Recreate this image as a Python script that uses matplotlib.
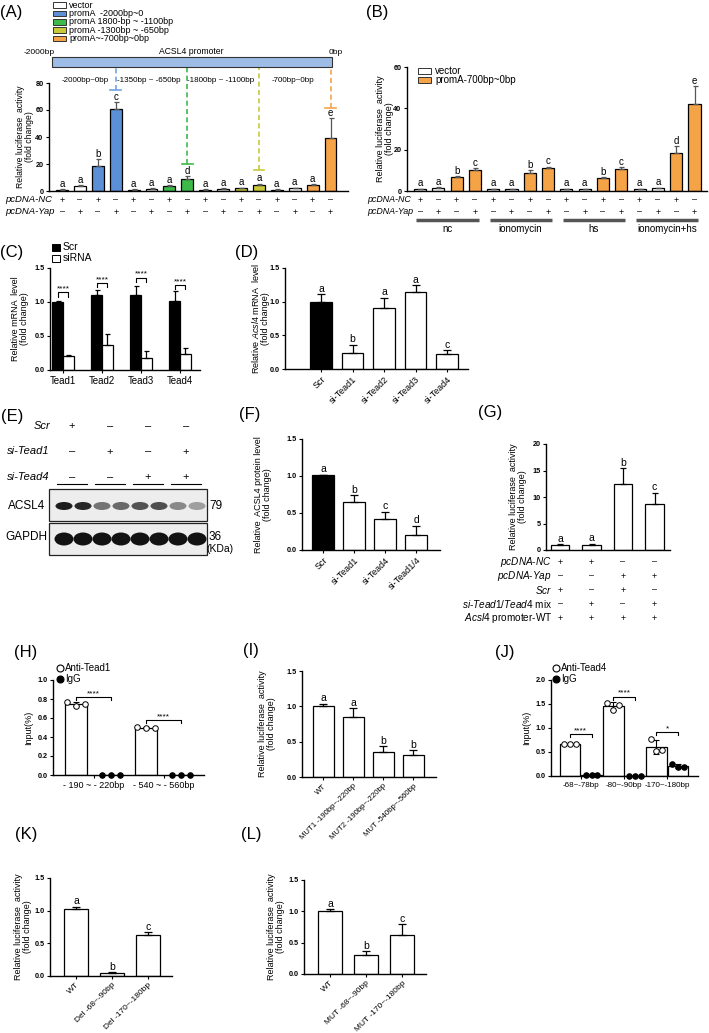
import matplotlib
matplotlib.use("Agg")
import matplotlib.pyplot as plt
import numpy as np
from matplotlib.patches import Rectangle, Ellipse
from matplotlib.lines import Line2D
from matplotlib.transforms import Affine2D, blended_transform_factory

plt.rcParams["font.family"] = ["Liberation Sans", "DejaVu Sans"]
plt.rcParams["mathtext.fontset"] = "custom"
plt.rcParams["mathtext.rm"] = "Liberation Sans"
plt.rcParams["mathtext.it"] = "Liberation Sans:italic"

W, H = 709, 1033
P, M = "+", "\u2013"

# ---------------- data ----------------
# (A) promoter fragments, 16 bars
a_legend = ["vector", "promA  -2000bp~0", "promA 1800-bp ~ -1100bp",
            "promA -1300bp ~ -650bp", "promA~-700bp~0bp"]
a_kind = [0, 0, 1, 1, 0, 0, 2, 2, 0, 0, 3, 3, 0, 0, 4, 4]
a_values = [1.0, 4.0, 18.5, 60.7, 1.0, 1.5, 4.0, 8.9, 1.0, 1.5, 2.0, 4.4, 1.0, 2.0, 4.2, 39.5]
a_errors = [0.3, 0.5, 5.0, 5.2, 0.2, 0.4, 0.6, 2.0, 0.2, 0.4, 0.5, 1.0, 0.2, 0.4, 1.0, 14.5]
a_letters = ["a", "a", "b", "c", "a", "a", "a", "d", "a", "a", "a", "a", "a", "a", "a", "e"]
a_nc = [P, M] * 8
a_yap = [M, P] * 8
a_fragments = ["-2000bp~0bp", "-1350bp ~ -650bp", "-1800bp ~ -1100bp", "-700bp~0bp"]
a_link_bar = [3, 7, 11, 15]
a_link_end = [74.8, 20.0, 15.5, 61.5]

# (B)
b_treat = ["nc", "ionomycin", "hs", "ionomycin+hs"]
b_legend = ["vector", "promA-700bp~0bp"]
b_kind = [0, 0, 1, 1] * 4
b_values = [1.0, 1.5, 6.9, 10.2, 1.0, 1.0, 8.6, 11.0, 1.0, 1.0, 6.3, 10.5, 1.0, 1.3, 18.2, 42.0]
b_errors = [0.2, 0.2, 0.4, 0.8, 0.2, 0.2, 1.6, 0.8, 0.2, 0.2, 0.4, 1.0, 0.2, 0.3, 3.6, 8.8]
b_letters = ["a", "a", "b", "c"] * 3 + ["a", "a", "d", "e"]
b_nc = [P, M] * 8
b_yap = [M, P] * 8

# (C)
c_genes = ["Tead1", "Tead2", "Tead3", "Tead4"]
c_scr = [1.0, 1.1, 1.1, 1.01]
c_scr_err = [0.02, 0.07, 0.14, 0.15]
c_sirna = [0.2, 0.37, 0.18, 0.24]
c_sirna_err = [0.02, 0.16, 0.10, 0.09]
c_sig_y = [1.14, 1.28, 1.36, 1.25]

# (D)
d_labels = ["Scr", "si-Tead1", "si-Tead2", "si-Tead3", "si-Tead4"]
d_values = [1.0, 0.24, 0.9, 1.15, 0.22]
d_errors = [0.11, 0.12, 0.16, 0.10, 0.06]
d_letters = ["a", "b", "a", "a", "c"]

# (E) western blot
e_rows = ["Scr", "si-Tead1", "si-Tead4"]
e_signs = [[P, M, M, M], [M, P, M, P], [M, M, P, P]]
e_acsl4 = [0.95, 0.9, 0.55, 0.6, 0.7, 0.72, 0.45, 0.35]
e_gapdh = [1.0, 1.0, 1.0, 1.0, 1.0, 1.0, 1.0, 1.0]
e_kda = ["79", "36"]

# (F)
f_labels = ["Scr", "si-Tead1", "si-Tead4", "si-Tead1/4"]
f_values = [1.01, 0.65, 0.42, 0.2]
f_errors = [0.01, 0.09, 0.10, 0.13]
f_letters = ["a", "b", "c", "d"]

# (G)
g_values = [1.0, 0.85, 12.5, 8.7]
g_errors = [0.15, 0.35, 3.0, 2.1]
g_letters = ["a", "a", "b", "c"]
g_rows = ["$\\it{pcDNA}$-$\\it{NC}$", "$\\it{pcDNA}$-$\\it{Yap}$", "$\\it{Scr}$",
          "$\\it{si}$-$\\it{Tead1/Tead4}$ mix", "$\\it{Acsl4}$ promoter-WT"]
g_signs = [[P, P, M, M], [M, M, P, P], [P, M, P, M], [M, P, M, P], [P, P, P, P]]

# (H) ChIP Tead1
h_sites = ["- 190 ~ - 220bp", "- 540 ~ - 560bp"]
h_anti = [[0.77, 0.73, 0.75], [0.51, 0.49, 0.50]]
h_igg = [[0.0, 0.0, 0.0], [0.0, 0.0, 0.0]]
h_stars = ["****", "****"]
h_sig_y = [0.82, 0.58]

# (I)
i_labels = ["WT", "MUT1 -190bp~-220bp", "MUT2 -190bp~-220bp", "MUT -540bp~-560bp"]
i_values = [1.0, 0.85, 0.35, 0.31]
i_errors = [0.04, 0.12, 0.09, 0.07]
i_letters = ["a", "a", "b", "b"]

# (J) ChIP Tead4
j_sites = ["-68~-78bp", "-80~-90bp", "-170~-180bp"]
j_anti = [[0.66, 0.66, 0.66], [1.53, 1.37, 1.47], [0.78, 0.52, 0.54]]
j_igg = [[0.02, 0.02, 0.02], [0.01, 0.01, 0.01], [0.25, 0.18, 0.18]]
j_stars = ["****", "****", "*"]
j_sig_y = [0.87, 1.65, 0.91]

# (K)
k_labels = ["WT", "Del -68~-90bp", "Del -170~-180bp"]
k_values = [1.02, 0.05, 0.63]
k_errors = [0.04, 0.01, 0.04]
k_letters = ["a", "b", "c"]

# (L)
l_labels = ["WT", "MUT -68~-90bp", "MUT -170~-180bp"]
l_values = [1.0, 0.31, 0.62]
l_errors = [0.03, 0.06, 0.17]
l_letters = ["a", "b", "c"]

# ---------------- styles ----------------
a_colors = ["white", "#5b8fd6", "#3dba4a", "#c9c93a", "#f5a347"]
a_dash_colors = ["#6fa3e0", "#3dba4a", "#c9c93a", "#f5a347"]
b_colors = ["white", "#f5a347"]

fig = plt.figure(figsize=(W / 100, H / 100), dpi=100)
PX = Affine2D().scale(1.0 / W, -1.0 / H).translate(0, 1) + fig.transFigure


def ftext(x, y, s, **kw):
    kw.setdefault("ha", "center")
    kw.setdefault("va", "center")
    fig.text(x, y, s, transform=PX, **kw)


def frect(x0, y0, x1, y1, **kw):
    fig.add_artist(Rectangle((x0, y0), x1 - x0, y1 - y0, transform=PX, **kw))


def new_axes(box, ymax, yticks, fmt, first, step):
    left, top, right, bottom = box
    ax = fig.add_axes([left / W, 1 - bottom / H, (right - left) / W, (bottom - top) / H])
    ax.set_xlim((left - first) / step, (right - first) / step)
    ax.set_ylim(0, ymax)
    ax.spines[["top", "right"]].set_visible(False)
    ax.spines[["left", "bottom"]].set_linewidth(1.0)
    ax.tick_params(direction="out", length=2.5, width=0.8, pad=1.5)
    ax.set_yticks(yticks)
    ax.set_yticklabels([fmt.format(t) for t in yticks], fontsize=5.2, fontweight="bold")
    return ax


def ylab(ax, box, xc, text, size=6.5):
    ax.set_ylabel(text, fontsize=size, linespacing=1.1)
    ax.yaxis.set_label_coords((xc - box[0]) / (box[2] - box[0]), 0.5)
    ax.yaxis.label.set_verticalalignment("center")


def draw_bars(ax, xs, vals, errs, colors, width, cap, ecolor="black", letters=None, lsize=7.5):
    ax.bar(xs, vals, width=width, color=colors, edgecolor="black", linewidth=0.9, zorder=2)
    ax.errorbar(xs, vals, yerr=[np.zeros(len(vals)), errs], fmt="none", ecolor=ecolor,
                elinewidth=0.9, capsize=cap, capthick=0.9, zorder=3)
    if letters:
        for x, v, e, t in zip(xs, vals, errs, letters):
            ax.annotate(t, (x, v + e), xytext=(0, 0.2), textcoords="offset points",
                        ha="center", va="bottom", fontsize=lsize)


def sign_row(ax, xs, y, signs, size=6.5):
    tr = blended_transform_factory(ax.transData, PX)
    for x, s in zip(xs, signs):
        ax.text(x, y, s, transform=tr, ha="center", va="center", fontsize=size)


def rot_labels(ax, xs, labels, size=6.5):
    ax.set_xticks(xs)
    ax.set_xticklabels(labels, rotation=45, ha="right", rotation_mode="anchor", fontsize=size)


def bracket(ax, x1, x2, y, drop, text, size=6.5):
    ax.plot([x1, x1, x2, x2], [y - drop, y, y, y - drop], color="black", lw=0.8, clip_on=False)
    ax.text((x1 + x2) / 2, y, text, ha="center", va="bottom", fontsize=size)


def chip_panel(ax, anti, igg, width):
    offs = [-0.27, 0.0, 0.27]
    for g, (pa, pi) in enumerate(zip(anti, igg)):
        for k, pts in enumerate([pa, pi]):
            x = 2 * g + k
            m = np.mean(pts)
            sd = np.std(pts, ddof=1)
            ax.bar(x, m, width=width, color="white", edgecolor="black", linewidth=0.9, zorder=2)
            ax.errorbar(x, m, yerr=sd, fmt="none", ecolor="black", elinewidth=0.8,
                        capsize=2, capthick=0.8, zorder=3)
            ax.scatter([x + o for o in offs], pts, s=16, zorder=4, clip_on=False,
                       facecolor="white" if k == 0 else "black", edgecolor="black", linewidths=0.7)


def point_legend(x, y, labels):
    for i, lab in enumerate(labels):
        yy = y + 11 * i
        fig.add_artist(Line2D([x], [yy], marker="o", markersize=5, transform=PX,
                              markerfacecolor="white" if i == 0 else "black",
                              markeredgecolor="black", markeredgewidth=0.8))
        ftext(x + 5, yy, lab, ha="left", fontsize=7)


# ---------------- (A) ----------------
boxA = (49, 83, 348, 191)
axA = new_axes(boxA, 80, [0, 20, 40, 60, 80], "{:d}", 62, 17.9)
xa = np.arange(len(a_values))
draw_bars(axA, xa, a_values, a_errors, [a_colors[k] for k in a_kind], 0.67, 1.8,
          ecolor="#555555", letters=a_letters, lsize=7)
axA.set_xticks([])
ylab(axA, boxA, 25, "Relative luciferase  activity\n(fold change)", size=6.2)
prom_bottom = (191 - 67) * 80 / 108
for b, end, c in zip(a_link_bar, a_link_end, a_dash_colors):
    axA.plot([b, b], [end, prom_bottom], color=c, lw=1.2, ls=(0, (3, 2)), clip_on=False)
    axA.plot([b - 0.3, b + 0.3], [end, end], color=c, lw=1.2, clip_on=False)
frect(52, 57, 332, 67, facecolor="#9dbde6", edgecolor="#333333", lw=0.8)
ftext(39, 52, "-2000bp", fontsize=6)
ftext(191, 52, "ACSL4 promoter", fontsize=6.2)
ftext(336, 52, "0bp", fontsize=6)
for xc, t in zip([85, 149, 221, 293], a_fragments):
    ftext(xc, 80, t, fontsize=5.8)
for i, (lab, c) in enumerate(zip(a_legend, a_colors)):
    y = 5 + 8.4 * i
    frect(53, y - 2.8, 66, y + 2.8, facecolor=c, edgecolor="#333333", lw=0.7)
    ftext(69, y, lab, ha="left", fontsize=6.5)
sign_row(axA, xa, 200, a_nc)
sign_row(axA, xa, 212, a_yap)
ftext(5, 200, "pcDNA-NC", ha="left", fontsize=6.8, style="italic")
ftext(5, 212, "pcDNA-Yap", ha="left", fontsize=6.8, style="italic")
ftext(11, 12, "(A)", fontsize=12)

# ---------------- (B) ----------------
boxB = (407, 67, 707, 191)
axB = new_axes(boxB, 60, [0, 20, 40, 60], "{:d}", 420, 18.3)
xb = np.arange(len(b_values))
draw_bars(axB, xb, b_values, b_errors, [b_colors[k] for k in b_kind], 0.66, 1.8,
          ecolor="#555555", letters=b_letters, lsize=7)
axB.set_xticks([])
ylab(axB, boxB, 385, "Relative luciferase  activity\n(fold change)")
for i, (lab, c) in enumerate(zip(b_legend, b_colors)):
    y = 71 + 9 * i
    frect(418, y - 3, 431, y + 3, facecolor=c, edgecolor="#333333", lw=0.7)
    ftext(435, y, lab, ha="left", fontsize=7)
sign_row(axB, xb, 200, b_nc)
sign_row(axB, xb, 212, b_yap)
ftext(367, 200, "pcDNA-NC", ha="left", fontsize=6.4, style="italic")
ftext(367, 212, "pcDNA-Yap", ha="left", fontsize=6.4, style="italic")
trB = blended_transform_factory(axB.transData, PX)
for g, t in enumerate(b_treat):
    axB.plot([4 * g - 0.2, 4 * g + 3.2], [220, 220], color="#555555", lw=2.5,
             transform=trB, clip_on=False, solid_capstyle="butt")
    axB.text(4 * g + 1.5, 229, t, transform=trB, ha="center", va="center", fontsize=7)
ftext(377, 13, "(B)", fontsize=12)

# ---------------- (C) ----------------
boxC = (50, 268, 200, 370)
axC = new_axes(boxC, 1.5, [0.0, 0.5, 1.0, 1.5], "{:.1f}", 63, 39)
xc = np.arange(len(c_genes))
draw_bars(axC, xc - 0.14, c_scr, c_scr_err, "black", 0.28, 1.8)
draw_bars(axC, xc + 0.14, c_sirna, c_sirna_err, "white", 0.28, 1.8)
axC.set_xticks(xc)
axC.set_xticklabels(c_genes, fontsize=7)
for i, y in enumerate(c_sig_y):
    bracket(axC, i - 0.14, i + 0.14, y, 0.06, "****", size=6)
ylab(axC, boxC, 20, "Relative mRNA  level\n(fold change)")
frect(52, 244, 60, 251, facecolor="black", edgecolor="black", lw=0.7)
frect(52, 255, 60, 262, facecolor="white", edgecolor="black", lw=0.7)
ftext(63, 247, "Scr", ha="left", fontsize=7.5)
ftext(63, 258, "siRNA", ha="left", fontsize=7.5)
ftext(12, 252, "(C)", fontsize=12)

# ---------------- (D) ----------------
boxD = (285, 268, 468, 369)
axD = new_axes(boxD, 1.5, [0.0, 0.5, 1.0, 1.5], "{:.1f}", 321, 31.5)
xd = np.arange(len(d_values))
draw_bars(axD, xd, d_values, d_errors, ["black"] + ["white"] * 4, 0.67, 2.8, letters=d_letters)
rot_labels(axD, xd, d_labels)
ylab(axD, boxD, 260, "Relative $\\it{Acsl4}$ mRNA  level\n(fold change)")
ftext(247, 252, "(D)", fontsize=12)

# ---------------- (E) ----------------
e_cols = [72, 110, 148, 186]
for r, (lab, signs) in enumerate(zip(e_rows, e_signs)):
    y = 426 + 25.5 * r
    ftext(50, y, lab, ha="right", fontsize=8, style="italic")
    for xcol, s in zip(e_cols, signs):
        ftext(xcol, y, s, fontsize=8)
for xcol in e_cols:
    fig.add_artist(Line2D([xcol - 15, xcol + 15], [484, 484], color="black", lw=0.8, transform=PX))
frect(49, 489, 207, 521, facecolor="#ededed", edgecolor="#222222", lw=0.9)
frect(49, 523, 207, 555, facecolor="#ededed", edgecolor="#222222", lw=0.9)
for i, (ia, ig) in enumerate(zip(e_acsl4, e_gapdh)):
    xl = 64 + 19 * i
    fig.add_artist(Ellipse((xl, 506), 17, 8, transform=PX, lw=0,
                           facecolor=str(round(0.92 - 0.85 * ia, 3))))
    fig.add_artist(Ellipse((xl, 539), 19, 13, transform=PX, lw=0,
                           facecolor=str(round(0.92 - 0.85 * ig, 3))))
ftext(27, 506, "ACSL4", fontsize=8.5)
ftext(26, 537, "GAPDH", fontsize=8.5)
ftext(209, 506, e_kda[0], ha="left", fontsize=8.5)
ftext(209, 537, e_kda[1], ha="left", fontsize=8.5)
ftext(206, 549, "(KDa)", ha="left", fontsize=7.5)
ftext(12, 416, "(E)", fontsize=12)

# ---------------- (F) ----------------
boxF = (302, 439, 440, 550)
axF = new_axes(boxF, 1.5, [0.0, 0.5, 1.0, 1.5], "{:.1f}", 323, 31)
xf = np.arange(len(f_values))
draw_bars(axF, xf, f_values, f_errors, ["black"] + ["white"] * 3, 0.68, 2.8, letters=f_letters)
rot_labels(axF, xf, f_labels)
ylab(axF, boxF, 263, "Relative  ACSL4 protein level\n(fold change)")
ftext(250, 414, "(F)", fontsize=12)

# ---------------- (G) ----------------
boxG = (546, 444, 670, 550)
axG = new_axes(boxG, 20, [0, 5, 10, 15, 20], "{:d}", 560, 31.5)
xg = np.arange(len(g_values))
draw_bars(axG, xg, g_values, g_errors, "white", 0.6, 2.5, letters=g_letters)
axG.set_xticks([])
ylab(axG, boxG, 518, "Relative luciferase  activity\n(fold change)")
for r, (lab, signs) in enumerate(zip(g_rows, g_signs)):
    y = 562 + 14 * r
    ftext(552, y, lab, ha="right", fontsize=7.2)
    sign_row(axG, xg, y, signs, size=6.5)
ftext(490, 412, "(G)", fontsize=12)

# ---------------- (H) ----------------
boxH = (53, 680, 204, 775)
axH = new_axes(boxH, 1.0, [0.0, 0.2, 0.4, 0.6, 0.8, 1.0], "{:.1f}", 76, 35)
chip_panel(axH, h_anti, h_igg, 0.63)
axH.set_xticks([0.5, 2.5])
axH.set_xticklabels(h_sites, fontsize=6.5)
for g, (y, s) in enumerate(zip(h_sig_y, h_stars)):
    bracket(axH, 2 * g, 2 * g + 1, y, 0.03, s, size=6)
ylab(axH, boxH, 29, "Input(%)", size=6.5)
point_legend(60, 668, ["Anti-Tead1", "IgG"])
ftext(26, 653, "(H)", fontsize=12)

# ---------------- (I) ----------------
boxI = (302, 671, 436, 777)
axI = new_axes(boxI, 1.5, [0.0, 0.5, 1.0, 1.5], "{:.1f}", 323, 30)
xi = np.arange(len(i_values))
draw_bars(axI, xi, i_values, i_errors, "white", 0.7, 2.8, letters=i_letters)
rot_labels(axI, xi, i_labels, size=5.6)
ylab(axI, boxI, 267, "Relative luciferase  activity\n(fold change)")
ftext(251, 651, "(I)", fontsize=12)

# ---------------- (J) ----------------
boxJ = (551, 680, 698, 776)
axJ = new_axes(boxJ, 2.0, [0.0, 0.5, 1.0, 1.5, 2.0], "{:.1f}", 570, 21.6)
chip_panel(axJ, j_anti, j_igg, 0.97)
axJ.set_xticks([0.5, 2.5, 4.5])
axJ.set_xticklabels(j_sites, fontsize=5.8)
for g, (y, s) in enumerate(zip(j_sig_y, j_stars)):
    bracket(axJ, 2 * g, 2 * g + 1, y, 0.06, s, size=6)
ylab(axJ, boxJ, 527, "Input(%)", size=6.5)
point_legend(556, 668, ["Anti-Tead4", "IgG"])
ftext(505, 652, "(J)", fontsize=12)

# ---------------- (K) ----------------
boxK = (50, 878, 172, 976)
axK = new_axes(boxK, 1.5, [0.0, 0.5, 1.0, 1.5], "{:.1f}", 76, 36)
xk = np.arange(len(k_values))
draw_bars(axK, xk, k_values, k_errors, "white", 0.67, 2.8, letters=k_letters)
rot_labels(axK, xk, k_labels, size=6)
ylab(axK, boxK, 23, "Relative luciferase  activity\n(fold change)")
ftext(26, 835, "(K)", fontsize=12)

# ---------------- (L) ----------------
boxL = (304, 880, 426, 974)
axL = new_axes(boxL, 1.5, [0.0, 0.5, 1.0, 1.5], "{:.1f}", 330, 36)
xl_ = np.arange(len(l_values))
draw_bars(axL, xl_, l_values, l_errors, "white", 0.67, 2.8, letters=l_letters)
rot_labels(axL, xl_, l_labels, size=6)
ylab(axL, boxL, 276, "Relative luciferase  activity\n(fold change)")
ftext(251, 835, "(L)", fontsize=12)

fig.savefig("out.png", dpi=100)
